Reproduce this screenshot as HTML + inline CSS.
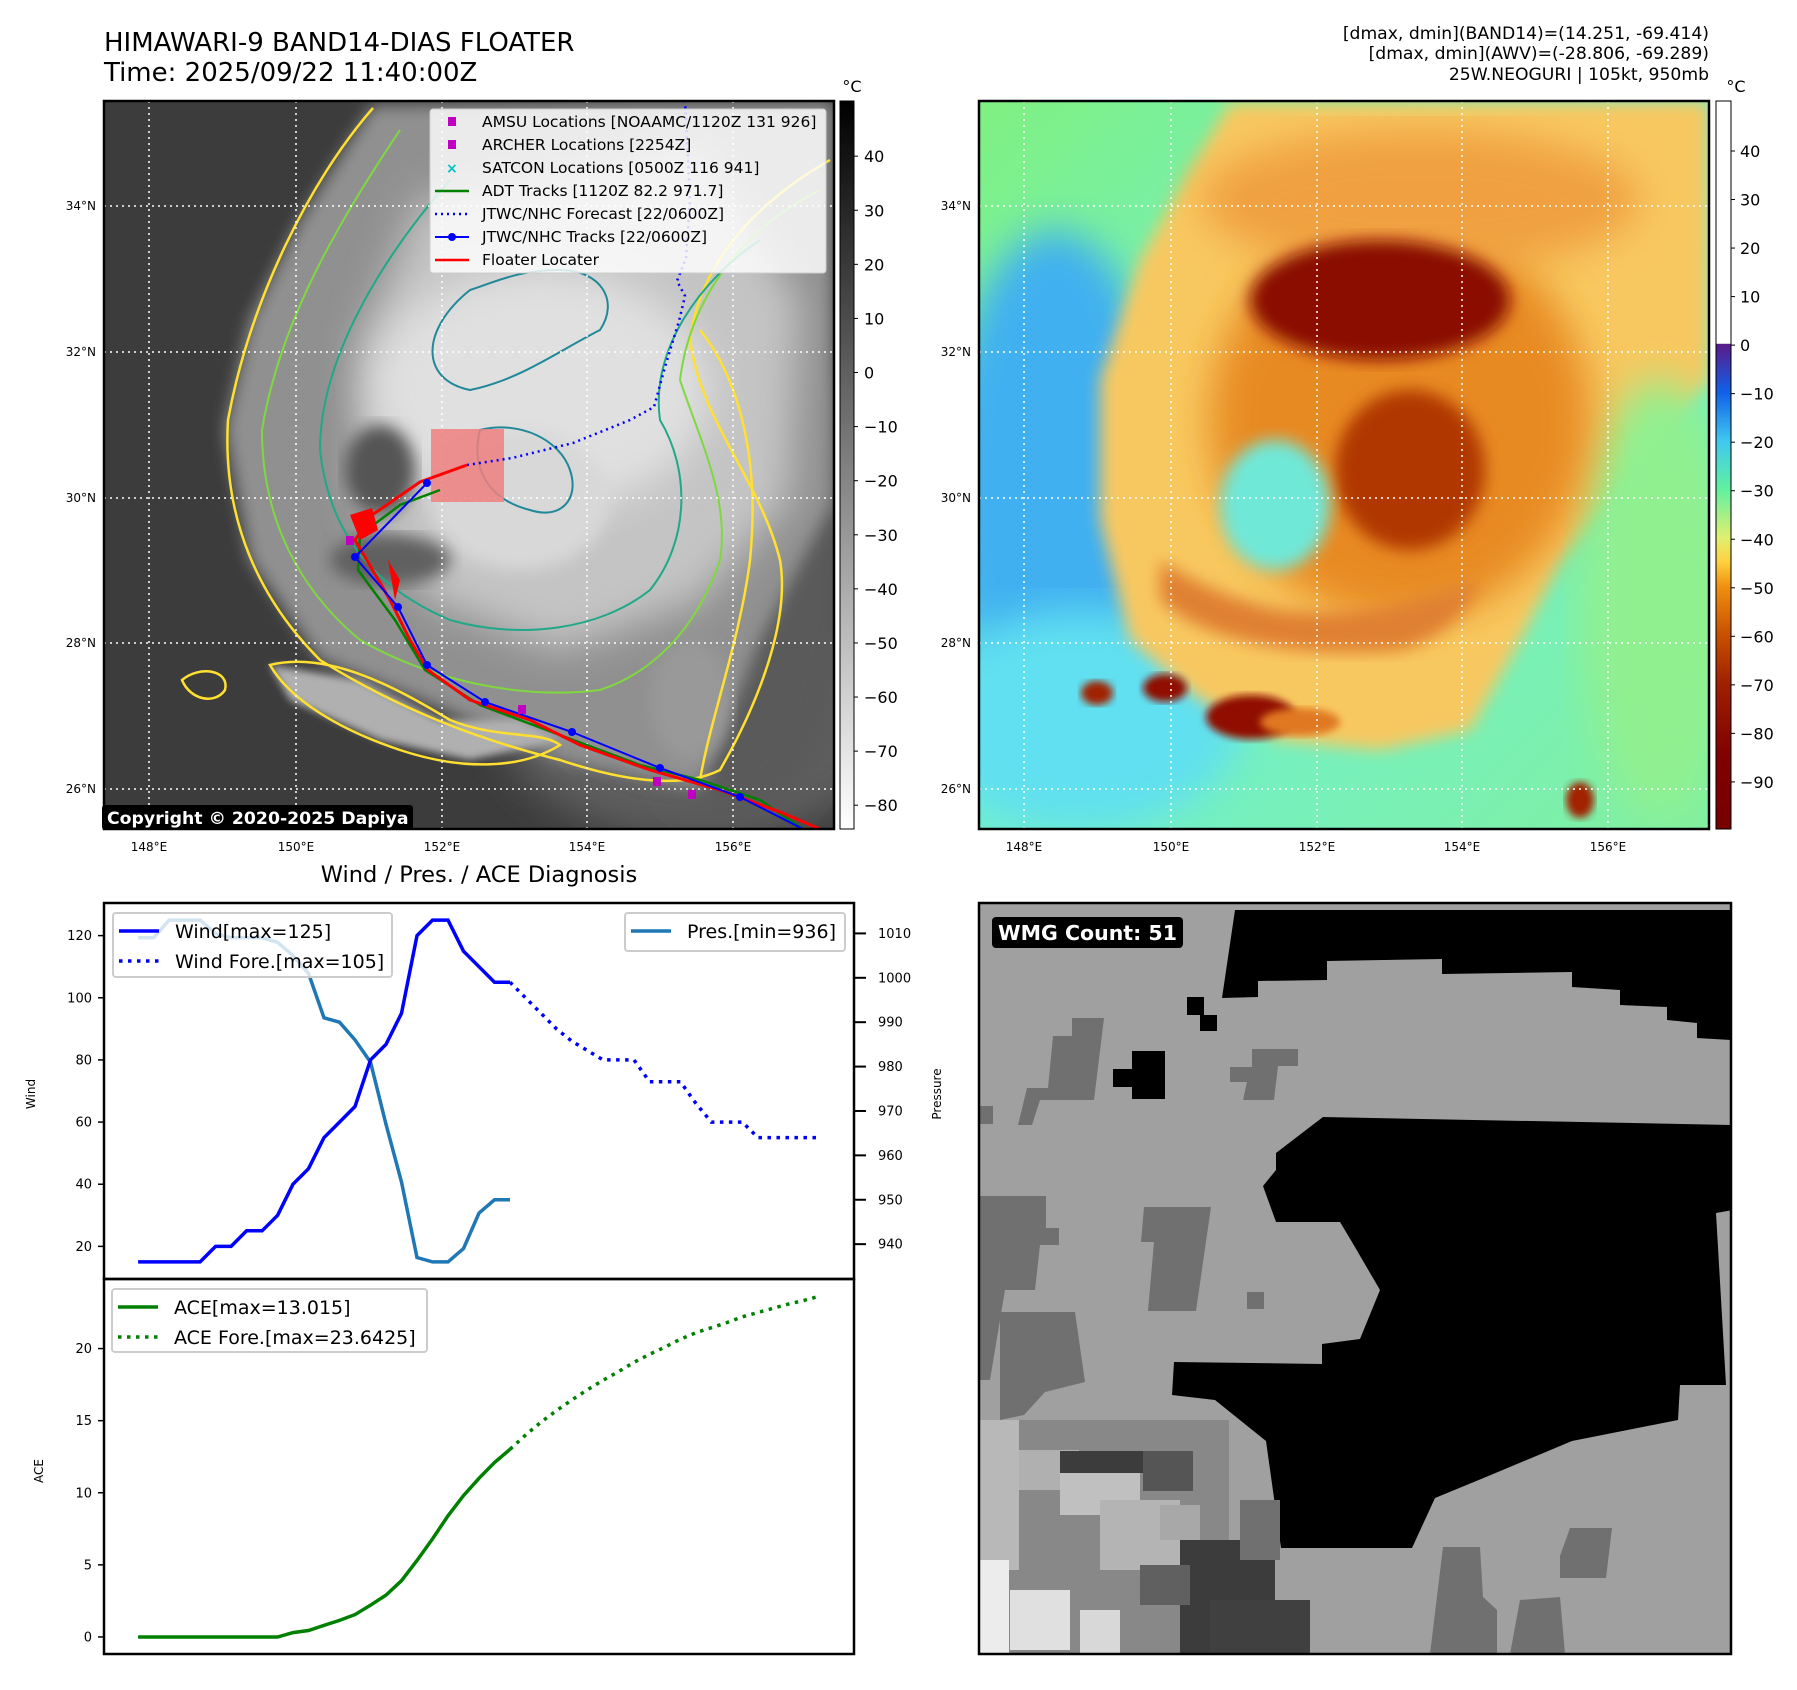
<!DOCTYPE html>
<html><head><meta charset="utf-8">
<style>
html,body{margin:0;padding:0;background:#fff;}
svg{display:block;font-family:"DejaVu Sans","Liberation Sans",sans-serif;}
</style></head>
<body>
<svg id="root" width="1797" height="1690" viewBox="0 0 1797 1690" xmlns="http://www.w3.org/2000/svg">
<defs>
  <clipPath id="clipL"><rect x="104" y="101" width="730" height="728"/></clipPath>
  <clipPath id="clipR"><rect x="979" y="101" width="730" height="728"/></clipPath>
  <clipPath id="clipB"><rect x="979" y="903" width="752" height="751"/></clipPath>
  <filter id="blur8"><feGaussianBlur stdDeviation="8"/></filter>
  <filter id="blur20"><feGaussianBlur stdDeviation="20"/></filter>
  <filter id="blur4"><feGaussianBlur stdDeviation="4"/></filter>
  <linearGradient id="cb1" x1="0" y1="0" x2="0" y2="1">
    <stop offset="0" stop-color="#000"/><stop offset="1" stop-color="#fff"/>
  </linearGradient>
  <linearGradient id="cb2" x1="0" y1="0" x2="0" y2="1">
    <stop offset="0" stop-color="#fff"/><stop offset="0.333" stop-color="#fff"/>
    <stop offset="0.334" stop-color="#5a1a8a"/><stop offset="0.40" stop-color="#1060e8"/>
    <stop offset="0.467" stop-color="#40c8f0"/><stop offset="0.533" stop-color="#60f0a0"/>
    <stop offset="0.60" stop-color="#e0f070"/><stop offset="0.633" stop-color="#ffd040"/>
    <stop offset="0.667" stop-color="#f09010"/><stop offset="0.733" stop-color="#c85000"/>
    <stop offset="0.80" stop-color="#a02000"/><stop offset="0.9" stop-color="#800000"/>
    <stop offset="1" stop-color="#780000"/>
  </linearGradient>
  <linearGradient id="bgR" x1="0" y1="0" x2="1" y2="1">
    <stop offset="0" stop-color="#80f080"/><stop offset="0.45" stop-color="#70f0d0"/><stop offset="1" stop-color="#80f0a0"/>
  </linearGradient>
</defs>

<text x="104" y="51" font-size="26">HIMAWARI-9 BAND14-DIAS FLOATER</text>
<text x="104" y="81" font-size="26">Time: 2025/09/22 11:40:00Z</text>
<text x="1709" y="39" font-size="17.2" text-anchor="end">[dmax, dmin](BAND14)=(14.251, -69.414)</text>
<text x="1709" y="59" font-size="17.2" text-anchor="end">[dmax, dmin](AWV)=(-28.806, -69.289)</text>
<text x="1709" y="80" font-size="17.2" text-anchor="end">25W.NEOGURI | 105kt, 950mb</text>

<g clip-path="url(#clipL)">
  <rect x="104" y="101" width="730" height="728" fill="#3c3c3c"/>
  <ellipse cx="700" cy="720" rx="200" ry="120" fill="#5e5e5e" filter="url(#blur20)"/>
  <ellipse cx="740" cy="560" rx="120" ry="260" fill="#5a5a5a" filter="url(#blur20)"/>
  <path d="M373,105 L834,101 L834,500 L760,640 L700,790 L560,760 L420,700 L320,660 L250,560 L225,430 L250,320 L300,220 Z" fill="#909090" filter="url(#blur8)"/>
  <path d="M420,200 L700,150 L800,300 L790,500 L700,600 L560,650 L430,600 L360,500 L360,350 Z" fill="#c4c4c4" filter="url(#blur20)"/>
  <ellipse cx="540" cy="390" rx="170" ry="120" fill="#e0e0e0" filter="url(#blur20)"/>
  <ellipse cx="520" cy="500" rx="90" ry="70" fill="#d8d8d8" filter="url(#blur8)"/>
  <ellipse cx="380" cy="470" rx="35" ry="45" fill="#555" filter="url(#blur8)"/>
  <ellipse cx="390" cy="560" rx="60" ry="25" fill="#606060" filter="url(#blur8)"/>
  <path d="M270,665 L360,680 L440,720 L520,720 L560,740 L470,760 L380,740 L290,700 Z" fill="#b0b0b0" filter="url(#blur4)"/>
  <ellipse cx="690" cy="700" rx="40" ry="60" fill="#999" filter="url(#blur8)"/>
  <path d="M373,108 C310,180 250,300 228,420 C222,520 260,600 320,660 C400,710 480,740 560,760 C620,780 680,790 720,770 C760,700 790,620 780,560 C760,480 700,420 690,340 C700,260 760,200 830,160" fill="none" stroke="#ffe030" stroke-width="2.5"/>
  <path d="M400,130 C340,220 280,320 262,430 C262,520 300,590 360,640 C430,680 520,700 600,690 C660,670 700,620 720,560 C730,500 700,440 680,380 C690,300 740,230 820,190" fill="none" stroke="#80d840" stroke-width="2"/>
  <path d="M450,180 C380,260 320,360 320,450 C330,540 380,590 450,620 C520,640 600,630 650,590 C690,540 690,470 660,420 C650,350 700,280 760,240" fill="none" stroke="#20a888" stroke-width="2"/>
  <path d="M470,290 C420,330 420,380 470,390 C520,380 560,350 600,330 C620,300 600,270 560,270 C520,270 500,280 470,290 Z" fill="none" stroke="#208898" stroke-width="2"/>
  <path d="M480,430 C470,470 490,500 530,510 C560,520 580,500 570,470 C560,440 520,420 480,430 Z" fill="none" stroke="#208898" stroke-width="2"/>
  <path d="M270,665 C330,650 400,690 450,720 C500,740 540,730 560,745 C520,770 460,770 400,750 C340,730 290,700 270,665 Z" fill="none" stroke="#ffe030" stroke-width="2.5"/>
  <path d="M182,680 C200,665 230,670 225,690 C215,705 190,700 182,680 Z" fill="none" stroke="#ffe030" stroke-width="2.5"/>
  <path d="M700,330 C740,380 760,460 750,560 C740,640 710,720 700,780" fill="none" stroke="#ffe030" stroke-width="2.5"/>
  <g stroke="#fff" stroke-width="1.5" stroke-dasharray="2,4">
    <line x1="149" y1="101" x2="149" y2="829"/><line x1="296" y1="101" x2="296" y2="829"/><line x1="442" y1="101" x2="442" y2="829"/><line x1="587" y1="101" x2="587" y2="829"/><line x1="733" y1="101" x2="733" y2="829"/>
    <line x1="104" y1="206" x2="834" y2="206"/><line x1="104" y1="352" x2="834" y2="352"/><line x1="104" y1="498" x2="834" y2="498"/><line x1="104" y1="643" x2="834" y2="643"/><line x1="104" y1="789" x2="834" y2="789"/>
  </g>
  <rect x="431" y="429" width="73" height="73" fill="#f08080" opacity="0.85"/>
  <polyline points="440,490 400,505 360,535 358,570 395,620 425,670 480,705 560,735 640,765 700,780 760,800 803,829" fill="none" stroke="#008000" stroke-width="2.5"/>
  <polyline points="467,465 420,482 372,515 355,540 390,600 410,640 428,670 470,700 530,720 580,745 650,770 720,790 780,812 820,829" fill="none" stroke="#ff0000" stroke-width="3"/>
  <path d="M350,515 L372,508 L378,530 L360,540 Z M388,560 L400,580 L395,600 Z" fill="#ff0000"/>
  <polyline points="467,465 512,458 573,443 630,420 654,407 665,367 679,321 685,296 677,281 686,258 690,200 685,100" fill="none" stroke="#0000ff" stroke-width="2.5" stroke-dasharray="2,4"/>
  <g>
    <polyline points="427,483 355,557 398,607 427,665 485,702 572,732 660,768 740,797 803,829" fill="none" stroke="#0000ff" stroke-width="2"/>
    <g fill="#0000ff"><circle cx="427" cy="483" r="4"/><circle cx="355" cy="557" r="4"/><circle cx="398" cy="607" r="4"/><circle cx="427" cy="665" r="4"/><circle cx="485" cy="702" r="4"/><circle cx="572" cy="732" r="4"/><circle cx="660" cy="768" r="4"/><circle cx="740" cy="797" r="4"/></g>
  </g>
  <g fill="#c000c0"><rect x="346" y="536" width="8" height="9"/><rect x="518" y="705" width="8" height="9"/><rect x="653" y="777" width="8" height="9"/><rect x="688" y="790" width="8" height="9"/></g>
</g>
<rect x="104" y="101" width="730" height="728" fill="none" stroke="#000" stroke-width="2.5"/>
<g>
  <rect x="430" y="109" width="396" height="164" rx="3" fill="#fff" fill-opacity="0.82" stroke="#ccc"/>
  <g font-size="15.5">
    <rect x="448" y="117" width="8" height="9" fill="#c000c0"/><text x="482" y="127">AMSU Locations [NOAAMC/1120Z 131 926]</text>
    <rect x="448" y="140" width="8" height="9" fill="#c000c0"/><text x="482" y="150">ARCHER Locations [2254Z]</text>
    <text x="446" y="173" fill="#00c0c0" font-size="14" font-weight="bold">×</text><text x="482" y="173">SATCON Locations [0500Z 116 941]</text>
    <line x1="435" y1="191" x2="469" y2="191" stroke="#008000" stroke-width="2.5"/><text x="482" y="196">ADT Tracks [1120Z 82.2 971.7]</text>
    <line x1="435" y1="214" x2="469" y2="214" stroke="#0000ff" stroke-width="2.5" stroke-dasharray="2,4"/><text x="482" y="219">JTWC/NHC Forecast [22/0600Z]</text>
    <line x1="435" y1="237" x2="469" y2="237" stroke="#0000ff" stroke-width="2"/><circle cx="452" cy="237" r="4" fill="#0000ff"/><text x="482" y="242">JTWC/NHC Tracks [22/0600Z]</text>
    <line x1="435" y1="260" x2="469" y2="260" stroke="#ff0000" stroke-width="2.5"/><text x="482" y="265">Floater Locater</text>
  </g>
</g>
<g>
  <rect x="102" y="805" width="311" height="25" rx="3" fill="#000"/>
  <text x="107" y="824" fill="#fff" font-size="17.3" font-weight="bold">Copyright © 2020-2025 Dapiya</text>
</g>
<g font-size="12" text-anchor="end">
  <text x="96" y="210">34°N</text><text x="96" y="356">32°N</text><text x="96" y="502">30°N</text><text x="96" y="647">28°N</text><text x="96" y="793">26°N</text>
</g>
<g font-size="12" text-anchor="middle">
  <text x="149" y="851">148°E</text><text x="296" y="851">150°E</text><text x="442" y="851">152°E</text><text x="587" y="851">154°E</text><text x="733" y="851">156°E</text>
</g>
<g>
  <rect x="840" y="101" width="14" height="728" fill="url(#cb1)" stroke="#000" stroke-width="1"/>
  <text x="852" y="92" font-size="16" text-anchor="middle">°C</text>
  <g id="cb1labels"></g>
</g>

<g clip-path="url(#clipR)">
  <rect x="979" y="101" width="730" height="728" fill="url(#bgR)"/>
  <ellipse cx="1055" cy="490" rx="110" ry="260" fill="#40b0f0" filter="url(#blur20)"/>
  <ellipse cx="1080" cy="720" rx="160" ry="110" fill="#60e0f0" filter="url(#blur20)"/>
  <path d="M1230,103 L1709,101 L1709,380 L1640,460 L1560,560 L1520,640 L1470,730 L1380,750 L1280,740 L1200,700 L1130,640 L1100,520 L1100,380 L1140,260 L1190,170 Z" fill="#f8c860" filter="url(#blur8)"/>
  <ellipse cx="1660" cy="600" rx="80" ry="220" fill="#90f090" filter="url(#blur20)"/>
  <ellipse cx="1400" cy="420" rx="190" ry="200" fill="#e88a20" filter="url(#blur20)"/>
  <ellipse cx="1420" cy="200" rx="220" ry="70" fill="#f0a040" filter="url(#blur20)"/>
  <path d="M1160,600 C1200,640 1300,660 1400,650 C1440,640 1470,610 1480,580 C1420,600 1350,620 1280,610 C1230,600 1190,580 1160,560 Z" fill="#e08030" filter="url(#blur8)"/>
  <ellipse cx="1380" cy="300" rx="130" ry="60" fill="#8a1000" filter="url(#blur8)"/>
  <ellipse cx="1410" cy="470" rx="75" ry="80" fill="#b03800" filter="url(#blur8)"/>
  <ellipse cx="1275" cy="505" rx="55" ry="65" fill="#70e8d8" filter="url(#blur8)"/>
  <ellipse cx="1251" cy="717" rx="45" ry="22" fill="#901000" filter="url(#blur4)"/>
  <ellipse cx="1165" cy="688" rx="22" ry="14" fill="#901000" filter="url(#blur4)"/>
  <ellipse cx="1097" cy="693" rx="16" ry="12" fill="#a02000" filter="url(#blur4)"/>
  <ellipse cx="1300" cy="722" rx="40" ry="14" fill="#e07820" filter="url(#blur4)"/>
  <ellipse cx="1580" cy="800" rx="14" ry="18" fill="#a02000" filter="url(#blur4)"/>
  <g stroke="#fff" stroke-width="1.5" stroke-dasharray="2,4">
    <line x1="1024" y1="101" x2="1024" y2="829"/><line x1="1171" y1="101" x2="1171" y2="829"/><line x1="1317" y1="101" x2="1317" y2="829"/><line x1="1462" y1="101" x2="1462" y2="829"/><line x1="1608" y1="101" x2="1608" y2="829"/>
    <line x1="979" y1="206" x2="1709" y2="206"/><line x1="979" y1="352" x2="1709" y2="352"/><line x1="979" y1="498" x2="1709" y2="498"/><line x1="979" y1="643" x2="1709" y2="643"/><line x1="979" y1="789" x2="1709" y2="789"/>
  </g>
</g>
<rect x="979" y="101" width="730" height="728" fill="none" stroke="#000" stroke-width="2.5"/>
<g font-size="12" text-anchor="end">
  <text x="971" y="210">34°N</text><text x="971" y="356">32°N</text><text x="971" y="502">30°N</text><text x="971" y="647">28°N</text><text x="971" y="793">26°N</text>
</g>
<g font-size="12" text-anchor="middle">
  <text x="1024" y="851">148°E</text><text x="1171" y="851">150°E</text><text x="1317" y="851">152°E</text><text x="1462" y="851">154°E</text><text x="1608" y="851">156°E</text>
</g>
<g>
  <rect x="1716" y="101" width="15" height="728" fill="url(#cb2)" stroke="#000" stroke-width="1"/>
  <text x="1736" y="92" font-size="16" text-anchor="middle">°C</text>
  <g id="cb2labels"></g>
</g>

<g clip-path="url(#clipB)">
  <rect x="979" y="903" width="752" height="751" fill="#a0a0a0"/>
  <polygon fill="#000" points="1235,910 1731,910 1731,1040 1697,1038 1697,1023 1667,1020 1667,1007 1620,1005 1620,990 1572,987 1572,972 1442,974 1442,959 1327,961 1327,980 1258,981 1258,997 1222,998"/>
  <polygon fill="#000" points="1276,1153 1323,1117 1733,1125 1733,1210 1716,1213 1726,1385 1680,1385 1678,1420 1572,1441 1486,1477 1435,1498 1412,1548 1281,1548 1266,1441 1215,1400 1172,1395 1174,1362 1322,1364 1322,1344 1360,1339 1380,1290 1352,1242 1340,1222 1276,1222 1263,1186 1276,1170"/>
  <rect x="1132" y="1051" width="33" height="48" fill="#000"/><rect x="1113" y="1069" width="30" height="18" fill="#000"/>
  <rect x="1187" y="997" width="17" height="18" fill="#000"/><rect x="1200" y="1015" width="17" height="16" fill="#000"/>
  <g fill="#707070">
    <polygon points="1072,1018 1104,1018 1094,1100 1040,1100 1032,1125 1018,1125 1027,1088 1048,1088 1053,1036 1072,1036"/>
    <polygon points="1252,1049 1298,1049 1298,1066 1278,1066 1274,1100 1243,1100 1247,1082 1230,1082 1230,1067 1252,1067"/>
    <polygon points="1144,1207 1211,1207 1196,1311 1148,1311 1154,1242 1141,1242"/>
    <polygon points="979,1196 1046,1196 1046,1228 1059,1228 1059,1245 1040,1245 1035,1290 1005,1290 1000,1320 990,1380 979,1380"/>
    <rect x="1247" y="1292" width="17" height="17"/>
    <polygon points="1570,1528 1612,1528 1606,1578 1560,1578 1560,1556"/>
    <polygon points="1443,1547 1480,1547 1483,1597 1497,1610 1497,1654 1430,1654"/>
    <polygon points="1520,1600 1560,1597 1565,1654 1510,1654"/>
    <rect x="979" y="1106" width="14" height="18"/>
    <polygon points="1000,1312 1075,1312 1085,1382 1045,1392 1024,1415 1000,1420"/>
  </g>
  <g>
    <rect x="979" y="1420" width="250" height="234" fill="#888"/>
    <rect x="979" y="1420" width="40" height="150" fill="#b8b8b8"/>
    <rect x="1019" y="1450" width="60" height="40" fill="#b0b0b0"/>
    <rect x="1060" y="1465" width="80" height="50" fill="#c0c0c0"/>
    <rect x="1100" y="1500" width="80" height="70" fill="#b4b4b4"/>
    <rect x="979" y="1560" width="30" height="94" fill="#ececec"/>
    <rect x="1010" y="1590" width="60" height="60" fill="#e0e0e0"/>
    <rect x="1080" y="1610" width="40" height="44" fill="#d8d8d8"/>
    <rect x="1060" y="1451" width="90" height="22" fill="#3c3c3c"/>
    <rect x="1143" y="1451" width="50" height="40" fill="#555"/>
    <rect x="1180" y="1540" width="95" height="114" fill="#3c3c3c"/>
    <rect x="1140" y="1565" width="50" height="40" fill="#606060"/>
    <rect x="1210" y="1600" width="100" height="54" fill="#404040"/>
    <rect x="1240" y="1500" width="40" height="60" fill="#707070"/>
    <rect x="1160" y="1505" width="40" height="35" fill="#a8a8a8"/>
  </g>
</g>
<rect x="979" y="903" width="752" height="751" fill="none" stroke="#000" stroke-width="2.5"/>
<g>
  <rect x="992" y="917" width="191" height="31" rx="4" fill="#000"/>
  <text x="998" y="940" fill="#fff" font-size="20.5" font-weight="bold">WMG Count: 51</text>
</g>

<text x="479" y="882" font-size="22.5" text-anchor="middle">Wind / Pres. / ACE Diagnosis</text>
<g id="chart"></g>
</svg>

<script>
const windObs = [15,15,15,15,15,20,20,25,25,30,40,45,55,60,65,80,85,95,120,125,125,115,110,105,105];
const windFore = [105,100,95,90,86,83,80,80,80,73,73,73,66,60,60,60,55,55,55,55,55];
const presObs = [1009,1009,1013,1013,1013,1010,1009,1009,1009,1008,1005,1001,991,990,986,981,967,954,937,936,936,939,947,950,950];
const aceObs = [0,0,0,0,0,0,0,0,0,0,0.3,0.45,0.8,1.15,1.55,2.2,2.9,3.9,5.3,6.8,8.4,9.8,11.0,12.1,13.015];
const aceFore = [13.015,14.0,14.9,15.7,16.45,17.15,17.8,18.4,19.05,19.6,20.1,20.65,21.1,21.45,21.8,22.2,22.5,22.8,23.1,23.35,23.6425];
const windTicks = [20,40,60,80,100,120];
const presTicks = [940,950,960,970,980,990,1000,1010];
const aceTicks = [0,5,10,15,20];
const cb1Ticks = [40,30,20,10,0,-10,-20,-30,-40,-50,-60,-70,-80];
const cb2Ticks = [40,30,20,10,0,-10,-20,-30,-40,-50,-60,-70,-80,-90];

const NS = 'http://www.w3.org/2000/svg';
const chart = document.getElementById('chart');
function mk(tag, attrs, parent){
  const e = document.createElementNS(NS, tag);
  for (const k in attrs) e.setAttribute(k, attrs[k]);
  (parent||chart).appendChild(e);
  return e;
}
function lbl(x,y,t,anchor,size,parent){
  const e = mk('text',{x:x,y:y,'font-size':size||13,'text-anchor':anchor||'start'},parent);
  e.textContent = t; return e;
}

const AX = {l:104, r:854, t1:903, b1:1279, t2:1279, b2:1654};
const nTotal = windObs.length + windFore.length - 2;
const xpad = nTotal*0.05;
function xS(i){ return AX.l + (i + xpad) / (nTotal + 2*xpad) * (AX.r - AX.l); }
const wAll = windObs.concat(windFore);
const wMin = Math.min(...wAll), wMax = Math.max(...wAll), wPad=(wMax-wMin)*0.05;
function yW(v){ return AX.b1 - (v-(wMin-wPad))/((wMax+wPad)-(wMin-wPad))*(AX.b1-AX.t1); }
const pMin = Math.min(...presObs), pMax = Math.max(...presObs), pPad=(pMax-pMin)*0.05;
function yP(v){ return AX.b1 - (v-(pMin-pPad))/((pMax+pPad)-(pMin-pPad))*(AX.b1-AX.t1); }
const aAll = aceObs.concat(aceFore);
const aMin = Math.min(...aAll), aMax = Math.max(...aAll), aPad=(aMax-aMin)*0.05;
function yA(v){ return AX.b2 - (v-(aMin-aPad))/((aMax+aPad)-(aMin-aPad))*(AX.b2-AX.t2); }

function pts(arr, off, yf){ return arr.map((v,i)=> xS(i+off).toFixed(1)+','+yf(v).toFixed(1)).join(' '); }
const off = windObs.length-1;

let e;
e = mk('polyline',{points:pts(presObs,0,yP),fill:'none',stroke:'#1f77b4','stroke-width':3.5});


e = mk('polyline',{points:pts(windObs,0,yW),fill:'none',stroke:'#0000ff','stroke-width':3.5});


e = mk('polyline',{points:pts(windFore,off,yW),fill:'none',stroke:'#0000ff','stroke-width':3.5,'stroke-dasharray':'3.5,5.5'});


e = mk('polyline',{points:pts(aceObs,0,yA),fill:'none',stroke:'#008000','stroke-width':3.5});


e = mk('polyline',{points:pts(aceFore,off,yA),fill:'none',stroke:'#008000','stroke-width':3.5,'stroke-dasharray':'3.5,5.5'});



e = mk('rect',{x:AX.l,y:AX.t1,width:AX.r-AX.l,height:AX.b1-AX.t1,fill:'none',stroke:'#000','stroke-width':2.5});


e = mk('rect',{x:AX.l,y:AX.t2,width:AX.r-AX.l,height:AX.b2-AX.t2,fill:'none',stroke:'#000','stroke-width':2.5});



windTicks.forEach(v=>{
  const y=yW(v);
  mk('line',{x1:AX.l-6,y1:y,x2:AX.l,y2:y,stroke:'#000','stroke-width':1.5});
  e = lbl(AX.l-12,y+4.5,String(v),'end',13);
  
  
});
presTicks.forEach(v=>{
  const y=yP(v);
  mk('line',{x1:AX.r,y1:y,x2:AX.r+12,y2:y,stroke:'#000','stroke-width':2});
  e = lbl(AX.r+24,y+4.5,String(v),'start',13);
  
  
});
aceTicks.forEach(v=>{
  const y=yA(v);
  mk('line',{x1:AX.l-6,y1:y,x2:AX.l,y2:y,stroke:'#000','stroke-width':1.5});
  e = lbl(AX.l-12,y+4.5,String(v),'end',13);
  
  
});
e = lbl(0,0,'Wind','middle',12); e.setAttribute('transform','translate(35,1094) rotate(-90)');


e = lbl(0,0,'Pressure','middle',12); e.setAttribute('transform','translate(941,1094) rotate(-90)');


e = lbl(0,0,'ACE','middle',12); e.setAttribute('transform','translate(43,1471) rotate(-90)');



function legend(x,y,w,h,items,name){
  const gg = mk('g',{});
  
  
  mk('rect',{x:x,y:y,width:w,height:h,rx:3,fill:'#fff','fill-opacity':0.8,stroke:'#ccc','stroke-width':2},gg);
  items.forEach((it,i)=>{
    const cy = y+18+i*30;
    const ln = mk('line',{x1:x+6,y1:cy,x2:x+46,y2:cy,stroke:it.c,'stroke-width':3.5},gg);
    if(it.d) ln.setAttribute('stroke-dasharray','3.5,5.5');
    lbl(x+62,cy+7,it.t,'start',19,gg);
  });
}
legend(113,913,279,64,[{c:'#0000ff',t:'Wind[max=125]'},{c:'#0000ff',t:'Wind Fore.[max=105]',d:1}],'wind-legend');
legend(625,913,220,38,[{c:'#1f77b4',t:'Pres.[min=936]'}],'pressure-legend');
legend(112,1289,315,63,[{c:'#008000',t:'ACE[max=13.015]'},{c:'#008000',t:'ACE Fore.[max=23.6425]',d:1}],'ace-legend');

const cb1 = document.getElementById('cb1labels');
cb1Ticks.forEach(v=>{
  const y = 101 + (50.2 - v)/(50.2+84.4)*728;
  mk('line',{x1:854,y1:y,x2:858,y2:y,stroke:'#000'},cb1);
  e = lbl(864,y+6,v<0?'\u2212'+(-v):String(v),'start',16,cb1);
  
  
});
const cb2 = document.getElementById('cb2labels');
cb2Ticks.forEach(v=>{
  const y = 101 + (50.3 - v)/(50.3+99.7)*728;
  mk('line',{x1:1731,y1:y,x2:1735,y2:y,stroke:'#000'},cb2);
  e = lbl(1740,y+6,v<0?'\u2212'+(-v):String(v),'start',16,cb2);
  
  
});
</script>
</body></html>
